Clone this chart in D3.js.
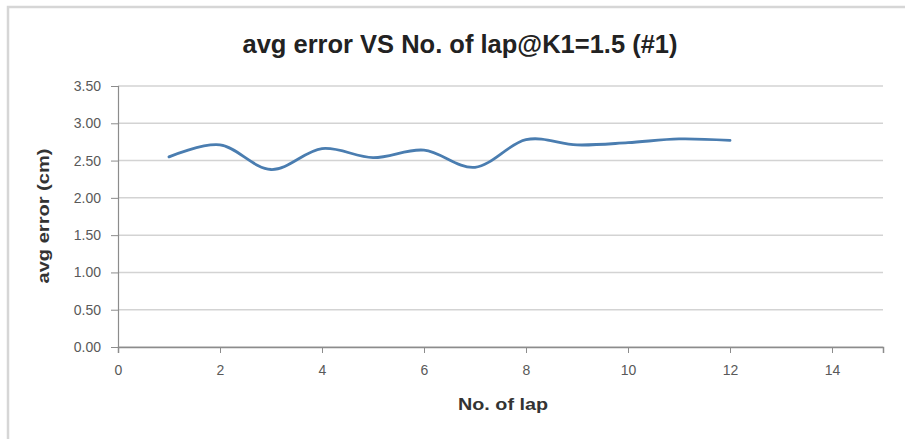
<!DOCTYPE html>
<html>
<head>
<meta charset="utf-8">
<script src="https://cdn.jsdelivr.net/npm/d3@7"></script>
<style>
  html, body { margin: 0; padding: 0; background: #fff; }
  svg { display: block; }
</style>
</head>
<body>
<svg id="chart" width="905" height="439"></svg>
<script>
// Lap number and the average error measured on that lap (cm)
const laps = [1, 2, 3, 4, 5, 6, 7, 8, 9, 10, 11, 12];
const avgError = [2.55, 2.71, 2.38, 2.66, 2.54, 2.64, 2.41, 2.78, 2.71, 2.74, 2.79, 2.77];
const xTicks = [0, 2, 4, 6, 8, 10, 12, 14];
const yTicks = [0, 0.5, 1, 1.5, 2, 2.5, 3, 3.5];

const titleText = "avg error VS No. of lap@K1=1.5 (#1)";
const xTitle = "No. of lap";
const yTitle = "avg error (cm)";

const svg = d3.select("#chart");
const font = "'Liberation Sans Narrow', 'Liberation Sans', Arial, sans-serif";

// chart frame
svg.append("rect")
  .attr("x", 8).attr("y", 7)
  .attr("width", 905).attr("height", 440)
  .attr("fill", "#fff")
  .attr("stroke", "#d6d6d6").attr("stroke-width", 2.5);

const plot = { left: 118, right: 883, top: 86, bottom: 347 };

const x = d3.scaleLinear().domain([0, 15]).range([plot.left, plot.right]);
const y = d3.scaleLinear().domain([0, 3.5]).range([plot.bottom, plot.top]);

// horizontal gridlines
svg.append("g")
  .selectAll("line")
  .data(yTicks)
  .join("line")
  .attr("x1", plot.left).attr("x2", plot.right)
  .attr("y1", d => y(d)).attr("y2", d => y(d))
  .attr("stroke", "#d3d3d3").attr("stroke-width", 1.5);

// y axis
const yAxis = svg.append("g")
  .attr("transform", `translate(${plot.left},0)`)
  .call(d3.axisLeft(y).tickValues(yTicks).tickFormat(d3.format(".2f")).tickSize(7).tickPadding(10));
yAxis.select(".domain").attr("stroke", "#8c8c8c").attr("stroke-width", 1.2);
yAxis.selectAll(".tick line").attr("stroke", "#8c8c8c");
yAxis.selectAll("text")
  .attr("fill", "#595959")
  .style("font-family", font)
  .style("font-size", "14px");

// x axis
const xAxis = svg.append("g")
  .attr("transform", `translate(0,${plot.bottom})`)
  .call(d3.axisBottom(x).tickValues(xTicks).tickFormat(d3.format("d")).tickSize(6).tickPadding(12));
xAxis.select(".domain").attr("stroke", "#8c8c8c").attr("stroke-width", 1.5);
xAxis.selectAll(".tick line").attr("stroke", "#8c8c8c");
xAxis.selectAll("text")
  .attr("fill", "#595959")
  .style("font-family", font)
  .style("font-size", "14px");

// smoothed data line
const line = d3.line()
  .x((d, i) => x(laps[i]))
  .y(d => y(d))
  .curve(d3.curveCardinal);

svg.append("path")
  .datum(avgError)
  .attr("d", line)
  .attr("fill", "none")
  .attr("stroke", "#4a7db0")
  .attr("stroke-width", 2.8)
  .attr("stroke-linejoin", "round")
  .attr("stroke-linecap", "round");

// titles
svg.append("text")
  .attr("x", 460).attr("y", 53)
  .attr("text-anchor", "middle")
  .attr("fill", "#222")
  .attr("textLength", 435).attr("lengthAdjust", "spacingAndGlyphs")
  .style("font-family", font)
  .style("font-weight", "bold")
  .style("font-size", "25px")
  .text(titleText);

svg.append("text")
  .attr("x", 503).attr("y", 410)
  .attr("text-anchor", "middle")
  .attr("fill", "#333")
  .attr("textLength", 90).attr("lengthAdjust", "spacingAndGlyphs")
  .style("font-family", font)
  .style("font-weight", "bold")
  .style("font-size", "17px")
  .text(xTitle);

svg.append("text")
  .attr("transform", `translate(49,216) rotate(-90)`)
  .attr("text-anchor", "middle")
  .attr("fill", "#333")
  .attr("textLength", 135).attr("lengthAdjust", "spacingAndGlyphs")
  .style("font-family", font)
  .style("font-weight", "bold")
  .style("font-size", "16px")
  .text(yTitle);
</script>
</body>
</html>
